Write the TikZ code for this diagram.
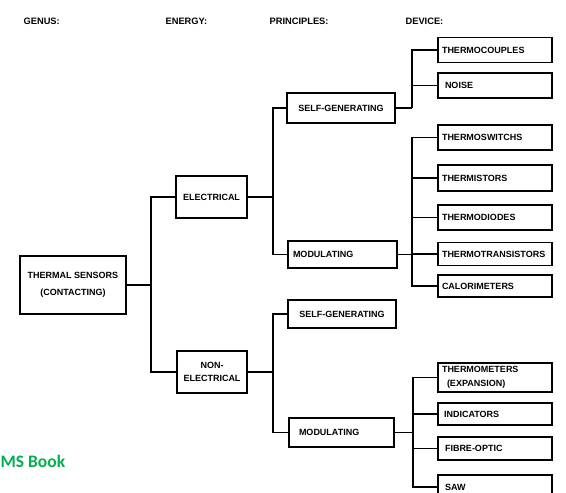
\documentclass[tikz,border=0pt]{standalone}
\usepackage{fontspec}
\setmainfont{Liberation Sans}
\newfontfamily\wmfont{Carlito}
\definecolor{wmgreen}{RGB}{0,176,80}
\begin{document}
\begin{tikzpicture}[x=1pt,y=-1pt,line width=1.2pt,
  box/.style={draw,line width=1.3pt,font=\bfseries\fontsize{9}{11}\selectfont,inner ysep=0pt},
  dev/.style={box,text width=106pt,inner xsep=4pt,align=left,minimum height=#1},
  dev/.default=24pt,
  hdr/.style={anchor=west,inner sep=0pt,font=\bfseries\fontsize{9.3}{11}\selectfont},
  conn/.style={line width=1.2pt}]
\clip (0,0) rectangle (566,493);
\fill[white] (0,0) rectangle (566,493);
% headers
\node[hdr] (hgenus) at (23,21) {GENUS:};
\node[hdr] (henergy) at (165,21) {ENERGY:};
\node[hdr] (hprin) at (269,21) {PRINCIPLES:};
\node[hdr] (hdev) at (405,21) {DEVICE:};
% genus
\node[box,minimum width=106pt,minimum height=58pt,align=center,font=\bfseries\fontsize{9}{17}\selectfont] (ts) at (73,285) {THERMAL SENSORS\\(CONTACTING)};
% energy
\node[box,minimum width=71pt,minimum height=42pt] (el) at (211.5,197) {ELECTRICAL};
\node[box,minimum width=70pt,minimum height=42pt,align=center,font=\bfseries\fontsize{9}{13}\selectfont] (ne) at (212,372) {NON-\\ELECTRICAL};
% principles
\node[box,minimum width=108pt,minimum height=30pt] (sg1) at (341,108) {SELF-GENERATING};
\node[box,text width=99pt,inner xsep=5pt,align=left,minimum height=27pt] (mod1) at (342.5,254.5) {MODULATING};
\node[box,minimum width=108pt,minimum height=28pt] (sg2) at (342,314) {SELF-GENERATING};
\node[box,text width=85pt,inner xsep=10pt,align=left,minimum height=29pt] (mod2) at (341.5,432.5) {MODULATING};
% devices
\node[dev=25pt] (tc) at (495,50) {THERMOCOUPLES};
\node[dev=25pt] (noise) at (495,85.5) {\hspace*{3pt}NOISE};
\node[dev=25pt] (tsw) at (495,137.5) {THERMOSWITCHS};
\node[dev=26pt] (thm) at (495,178) {THERMISTORS};
\node[dev=25pt] (tdi) at (495,217.5) {THERMODIODES};
\node[dev=23pt] (ttr) at (495,254) {THERMOTRANSISTORS};
\node[dev=22pt] (cal) at (495,286) {CALORIMETERS};
\node[dev=29pt,font=\bfseries\fontsize{9}{14}\selectfont] (tex) at (495,377.5) {THERMOMETERS\\\hspace*{5pt}(EXPANSION)};
\node[dev=22pt] (ind) at (495,414) {\hspace*{2pt}INDICATORS};
\node[dev=23pt] (fo) at (495,448.5) {\hspace*{3pt}FIBRE-OPTIC};
\node[dev=24pt] (saw) at (495,487) {\hspace*{3pt}SAW};
% junctions
\coordinate (j1) at (151,285);
\coordinate (j2) at (273,197);
\coordinate (j3) at (273,372);
\coordinate (j4) at (412,108);
\coordinate (j5) at (412,254.5);
\coordinate (j6) at (413,432.5);
% connectors
\draw[conn] (ts.east) -- (j1);
\draw[conn] (el.west) -| (j1);
\draw[conn] (ne.west) -| (j1);
\draw[conn] (el.east) -- (j2);
\draw[conn] (sg1.west) -| (j2);
\draw[conn] (mod1.west) -| (j2);
\draw[conn] (ne.east) -- (j3);
\draw[conn] (sg2.west) -| (j3);
\draw[conn] (mod2.west) -| (j3);
\draw[conn] (sg1.east) -- (j4);
\draw[conn] (tc.west) -| (j4);
\draw[conn] (noise.west) -| (j4);
\draw[conn] (mod1.east) -- (j5);
\draw[conn] (tsw.west) -| (j5);
\draw[conn] (thm.west) -| (j5);
\draw[conn] (tdi.west) -| (j5);
\draw[conn] (ttr.west) -| (j5);
\draw[conn] (cal.west) -| (j5);
\draw[conn] (mod2.east) -- (j6);
\draw[conn] (tex.west) -| (j6);
\draw[conn] (ind.west) -| (j6);
\draw[conn] (fo.west) -| (j6);
\draw[conn] (saw.west) -| (j6);
% watermark
\node[anchor=base west,inner sep=0pt,text=wmgreen,font=\wmfont\bfseries\fontsize{17.5}{20}\selectfont] (wm) at (0,467) {MS Book};
\end{tikzpicture}
\end{document}
